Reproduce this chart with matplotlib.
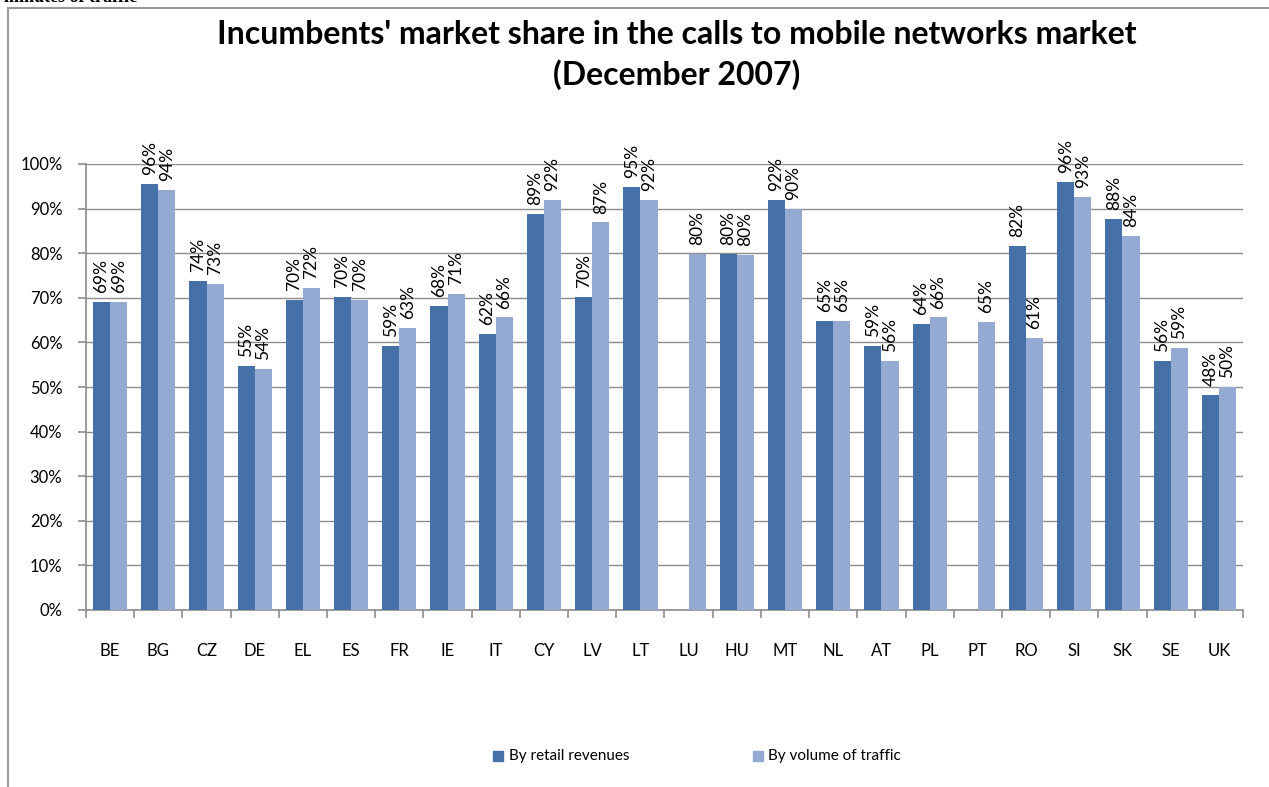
import numpy as np
import matplotlib.pyplot as plt
from matplotlib.lines import Line2D
from matplotlib.ticker import FuncFormatter, MultipleLocator

countries = ["BE", "BG", "CZ", "DE", "EL", "ES", "FR", "IE", "IT", "CY", "LV", "LT",
             "LU", "HU", "MT", "NL", "AT", "PL", "PT", "RO", "SI", "SK", "SE", "UK"]

# share in % (None = no data)
retail_revenues = [69.1, 95.5, 73.8, 54.7, 69.6, 70.2, 59.2, 68.2, 61.9, 88.8, 70.2, 94.8,
                   None, 79.9, 91.9, 64.8, 59.2, 64.1, None, 81.6, 96.0, 87.7, 55.8, 48.2]
volume_traffic = [69.1, 94.2, 73.1, 54.0, 72.2, 69.5, 63.2, 70.9, 65.6, 91.9, 86.9, 91.9,
                  79.9, 79.6, 89.9, 64.8, 55.8, 65.6, 64.6, 61.0, 92.6, 83.9, 58.7, 50.0]

dark = '#4571A8'
light = '#95AAD2'
grid_col = '#8C8C8C'

plt.rcParams['font.family'] = ['Lato', 'DejaVu Sans']

fig = plt.figure(figsize=(12.69, 7.87), dpi=100)
ax = fig.add_axes([86/1269, 1-610/787, (1243-86)/1269, (610-164)/787])

x = np.arange(len(countries))
w = 0.355

for i in range(len(countries)):
    r = retail_revenues[i]
    v = volume_traffic[i]
    if r is not None:
        ax.bar(x[i] - w/2, r, w, color=dark, zorder=3)
        ax.text(x[i] - w/2, r + 2.0, '{:.0f}%'.format(r), rotation=90, ha='center', va='bottom',
                fontsize=12.5, clip_on=False)
    if v is not None:
        ax.bar(x[i] + w/2, v, w, color=light, zorder=3)
        ax.text(x[i] + w/2, v + 2.0, '{:.0f}%'.format(v), rotation=90, ha='center', va='bottom',
                fontsize=12.5, clip_on=False)

ax.set_xlim(-0.5, len(countries) - 0.5)
ax.set_ylim(0, 100)
ax.yaxis.set_major_locator(MultipleLocator(10))
ax.yaxis.set_major_formatter(FuncFormatter(lambda val, pos: '{:.0f}%'.format(val)))
ax.grid(axis='y', color=grid_col, linewidth=1.0, zorder=0)

ax.set_xticks(x)
ax.set_xticklabels(countries)
ax.set_xticks(np.arange(-0.5, len(countries)), minor=True)
ax.tick_params(axis='x', which='major', length=0, pad=24, labelsize=12)
ax.tick_params(axis='x', which='minor', length=6, color=grid_col, width=1.2)
ax.tick_params(axis='y', length=6, color=grid_col, width=1.2, pad=11, labelsize=12)

for s in ['top', 'right']:
    ax.spines[s].set_visible(False)
for s in ['left', 'bottom']:
    ax.spines[s].set_color(grid_col)
    ax.spines[s].set_linewidth(1.2)

fig.text(677/1269, 1-35/787, "Incumbents' market share in the calls to mobile networks market",
         ha='center', va='center', fontsize=23, fontweight='bold')
fig.text(677/1269, 1-75/787, "(December 2007)",
         ha='center', va='center', fontsize=23, fontweight='bold')

# legend
fig.patches.append(plt.Rectangle((493/1269, 1-761/787), 10/1269, 10/787, color=dark,
                                 transform=fig.transFigure, figure=fig))
fig.text(509/1269, 1-756/787, "By retail revenues", ha='left', va='center', fontsize=11)
fig.patches.append(plt.Rectangle((753/1269, 1-761/787), 10/1269, 10/787, color=light,
                                 transform=fig.transFigure, figure=fig))
fig.text(768/1269, 1-756/787, "By volume of traffic", ha='left', va='center', fontsize=11)

# chart frame (cut off by the image edges) and the clipped text above it
fig.add_artist(Line2D([8/1269, 1], [1-8/787, 1-8/787], color='#9A9A9A', linewidth=1.5))
fig.add_artist(Line2D([8/1269, 8/1269], [0, 1-8/787], color='#9A9A9A', linewidth=1.5))
fig.text(4/1269, 1-2/787, "minutes of traffic", ha='left', va='baseline', fontsize=13,
         fontweight='bold', family='Liberation Serif')

plt.savefig("out.png", dpi=100)
